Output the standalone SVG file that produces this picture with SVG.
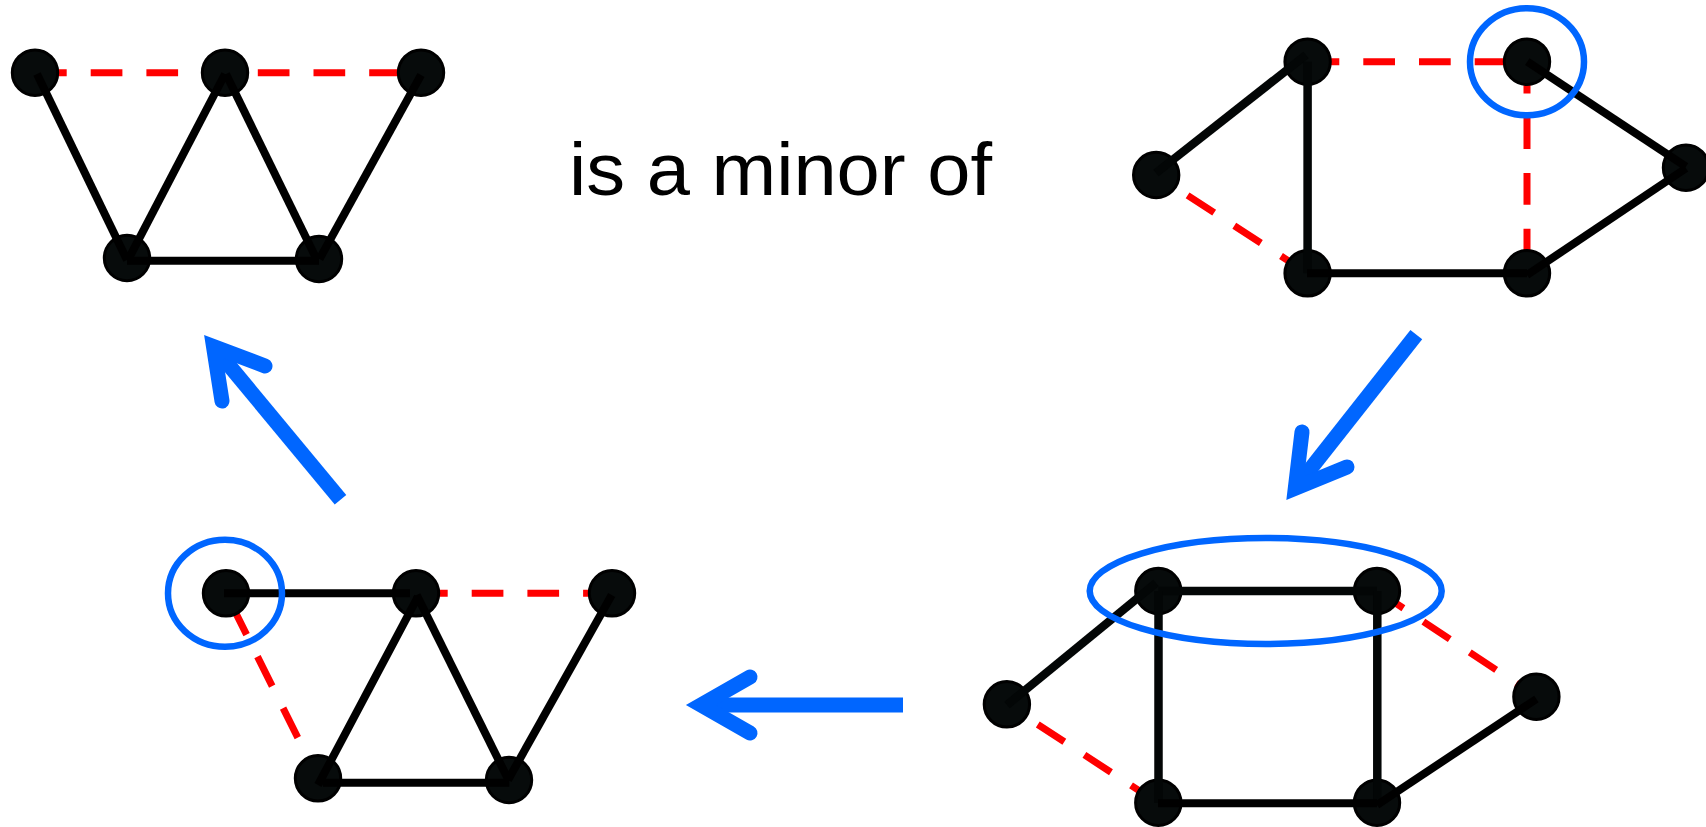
<svg xmlns="http://www.w3.org/2000/svg" width="1706" height="827" viewBox="0 0 1706 827">
<style>
.bg{fill:#ffffff}
.node{fill:#070b0b;stroke:#000;stroke-width:3}
.edge{stroke:#000;stroke-width:8;fill:none}
.edge2{stroke:#030606;stroke-width:8.5;fill:none}
.dash{stroke:#ff0000;stroke-width:7;fill:none;stroke-dasharray:31.7 24}
.mark{stroke:#0066ff;stroke-width:6.5;fill:none}
.arrow{stroke:#0066ff;stroke-width:15;fill:none}
.head{stroke:#0066ff;stroke-width:15;fill:none;stroke-linejoin:miter;stroke-linecap:round;stroke-miterlimit:6}
.label{font-family:"Liberation Sans",Arial,sans-serif;font-size:74px;fill:#000}
</style>
<rect class="bg" x="0" y="0" width="1706" height="827"/>

<g id="connectors-dashed">
  <line class="dash" x1="35" y1="72.7" x2="421" y2="72.7"/>
  <line class="dash" x1="416" y1="593.3" x2="612" y2="593.3"/>
  <line class="dash" x1="226" y1="593.3" x2="318" y2="778.3" style="stroke-dasharray:33 24.5" stroke-dashoffset="44.3"/>
  <line class="dash" x1="1307.6" y1="61.7" x2="1527" y2="61.7"/>
  <line class="dash" x1="1527" y1="61.7" x2="1527" y2="273.3"/>
  <line class="dash" x1="1307.6" y1="273.3" x2="1156.2" y2="175"/>
  <line class="dash" x1="1377" y1="590.7" x2="1536.4" y2="696.7"/>
  <line class="dash" x1="1157.6" y1="802.7" x2="1006.9" y2="704.3"/>
</g>

<g id="graph-top-left">
  <circle id="tl-a" class="node" cx="35" cy="72.7" r="22.7"/>
  <circle id="tl-b" class="node" cx="225" cy="72.7" r="22.7"/>
  <circle id="tl-c" class="node" cx="421" cy="72.7" r="22.7"/>
  <circle id="tl-d" class="node" cx="127" cy="258" r="22.7"/>
  <circle id="tl-e" class="node" cx="319" cy="259" r="22.7"/>
</g>
<g id="graph-bottom-left">
  <circle id="bl-a" class="node" cx="226" cy="593.3" r="22.7"/>
  <circle id="bl-b" class="node" cx="416" cy="593.3" r="22.7"/>
  <circle id="bl-c" class="node" cx="612" cy="593.3" r="22.7"/>
  <circle id="bl-d" class="node" cx="318" cy="778.3" r="22.7"/>
  <circle id="bl-e" class="node" cx="509" cy="780" r="22.7"/>
</g>
<g id="graph-top-right">
  <circle id="tr-a" class="node" cx="1307.6" cy="61.7" r="22.7"/>
  <circle id="tr-b" class="node" cx="1527" cy="61.7" r="22.7"/>
  <circle id="tr-c" class="node" cx="1156.2" cy="175" r="22.7"/>
  <circle id="tr-d" class="node" cx="1686" cy="167.7" r="22.7"/>
  <circle id="tr-e" class="node" cx="1307.6" cy="273.3" r="22.7"/>
  <circle id="tr-f" class="node" cx="1527" cy="273.3" r="22.7"/>
</g>
<g id="graph-bottom-right">
  <circle id="br-a" class="node" cx="1158.3" cy="591" r="22.7"/>
  <circle id="br-b" class="node" cx="1377" cy="591" r="22.7"/>
  <circle id="br-c" class="node" cx="1006.9" cy="704.3" r="22.7"/>
  <circle id="br-d" class="node" cx="1536.4" cy="696.7" r="22.7"/>
  <circle id="br-e" class="node" cx="1158.3" cy="802.7" r="22.7"/>
  <circle id="br-f" class="node" cx="1377" cy="802.7" r="22.7"/>
</g>

<g id="connectors-solid">
  <line class="edge" x1="37" y1="74" x2="127" y2="260"/>
  <line class="edge" x1="128" y1="260" x2="225" y2="74"/>
  <line class="edge" x1="226" y1="74" x2="316" y2="258"/>
  <line class="edge" x1="421" y1="75" x2="319.5" y2="259"/>
  <line class="edge" x1="127" y1="260.7" x2="319" y2="260.7"/>

  <line class="edge" x1="224" y1="593.3" x2="410" y2="593.3"/>
  <line class="edge" x1="418" y1="596.7" x2="318" y2="785"/>
  <line class="edge" x1="416.7" y1="595" x2="508.5" y2="780"/>
  <line class="edge" x1="611.7" y1="595" x2="508" y2="780"/>
  <line class="edge" x1="323" y1="782.7" x2="509.3" y2="782.7"/>

  <line class="edge2" x1="1156" y1="173" x2="1306" y2="55"/>
  <line class="edge2" x1="1307.6" y1="61.7" x2="1307.6" y2="273.3"/>
  <line class="edge" x1="1307" y1="273.3" x2="1527" y2="273.3"/>
  <line class="edge" x1="1527.3" y1="61.7" x2="1686" y2="166.7"/>
  <line class="edge" x1="1686" y1="168.3" x2="1527" y2="275"/>

  <line class="edge2" x1="1007" y1="705" x2="1156" y2="583"/>
  <line class="edge2" x1="1158.3" y1="591" x2="1377" y2="591"/>
  <line class="edge2" x1="1158.5" y1="591" x2="1158.5" y2="803"/>
  <line class="edge2" x1="1377.3" y1="591" x2="1377.3" y2="803"/>
  <line class="edge" x1="1158" y1="803.3" x2="1377" y2="803.3"/>
  <line class="edge" x1="1377" y1="805" x2="1536.4" y2="699"/>
</g>

<g id="highlights">
  <ellipse class="mark" cx="1527" cy="61.7" rx="57" ry="53.5"/>
  <ellipse class="mark" cx="225" cy="593.3" rx="57" ry="53.5"/>
  <ellipse class="mark" cx="1265.7" cy="591" rx="176" ry="53"/>
</g>

<g id="arrows">
  <line class="arrow" x1="340.5" y1="499.7" x2="213.5" y2="346.6"/>
  <polyline class="head" points="265,366 213.5,346.6 222,401"/>
  <line class="arrow" x1="1416.3" y1="334.7" x2="1295.3" y2="488.2"/>
  <polyline class="head" points="1347,467 1295.3,488.2 1302,432"/>
  <line class="arrow" x1="903" y1="705" x2="701" y2="705"/>
  <polyline class="head" points="750,677 701,705 750,733"/>
</g>

<g id="caption">
  <text class="label" x="569" y="195" textLength="423" lengthAdjust="spacingAndGlyphs">is a minor of</text>
</g>
</svg>
